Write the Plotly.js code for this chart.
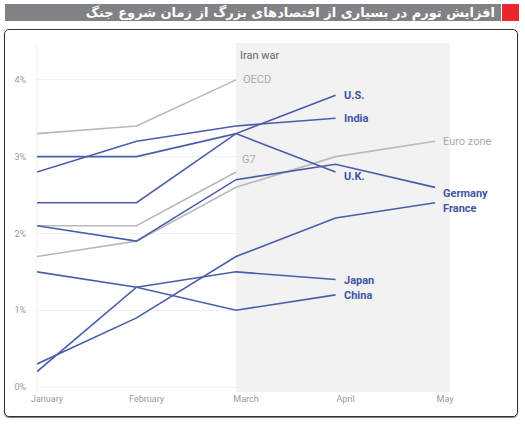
<!DOCTYPE html>
<html>
<head>
<meta charset="utf-8">
<script src="https://cdn.plot.ly/plotly-3.0.1.min.js"></script>
<style>
  body { margin: 0; background: #fff; }
  #wrap { position: relative; width: 525px; height: 425px; overflow: hidden; }
  #hdr { position: absolute; left: 5px; top: 4px; width: 496px; height: 17px; background: #808285;
         color: #fff; font: bold 13px "DejaVu Sans", sans-serif; direction: rtl; text-align: right;
         line-height: 17px; }
  #hdr span { padding-right: 6px; }
  #red { position: absolute; left: 502px; top: 4px; width: 17px; height: 17px; background: #e8262b; }
  #frame { position: absolute; left: 4px; top: 29px; width: 512px; height: 386px;
           border: 1.5px solid #333; border-radius: 5px; box-shadow: 0 1px 1px #777; }
  #chart { position: absolute; left: 0; top: 0; width: 525px; height: 425px; }
</style>
</head>
<body>
<div id="wrap">
  <div id="hdr"><span>افزایش تورم در بسیاری از اقتصادهای بزرگ از زمان شروع جنگ</span></div>
  <div id="red"></div>
  <div id="frame"></div>
  <div id="chart"></div>
</div>
<script>
'use strict';

// inflation, %
const months = ['January', 'February', 'March', 'April', 'May'];
const yTicks = [0, 1, 2, 3, 4];
const us = [2.4, 2.4, 3.3, 3.8];
const india = [2.8, 3.2, 3.4, 3.5];
const uk = [3.0, 3.0, 3.3, 2.8];
const germany = [2.1, 1.9, 2.7, 2.9, 2.6];
const france = [0.3, 0.9, 1.7, 2.2, 2.4];
const japan = [0.2, 1.3, 1.5, 1.4];
const china = [1.5, 1.3, 1.0, 1.2];
const oecd = [3.3, 3.4, 4.0];
const g7 = [2.1, 2.1, 2.8];
const euroZone = [1.7, 1.9, 2.6, 3.0, 3.2];

const BLUE = '#4a5dab', BLUE_TXT = '#3f55a6';
const GRAY = '#b9b9b9', GRAY_TXT = '#a9a9a9';

// name, values, colour, label offset (px)
const series = [
    ['OECD', oecd, 'gray', 5, 0],
    ['G7', g7, 'gray', 4, 13],
    ['Euro zone', euroZone, 'gray', 6, 0],
    ['U.S.', us, 'blue', 6, 0],
    ['India', india, 'blue', 6, 0],
    ['U.K.', uk, 'blue', 6, -4],
    ['Germany', germany, 'blue', 6, -6],
    ['France', france, 'blue', 6, -6],
    ['Japan', japan, 'blue', 6, -1],
    ['China', china, 'blue', 6, -1],
];

const traces = series.map(([name, vals, c]) => ({
    x: months.slice(0, vals.length), y: vals, name,
    type: 'scatter', mode: 'lines',
    line: { color: c === 'blue' ? BLUE : GRAY, width: 1.6 },
    hoverinfo: 'skip',
}));

const annotations = series.map(([name, vals, c, dx, dy]) => ({
    x: months[vals.length - 1], y: vals[vals.length - 1],
    text: name, showarrow: false, xanchor: 'left', yanchor: 'middle',
    xshift: dx, yshift: dy,
    font: { family: 'Roboto, sans-serif', size: 11, color: c === 'blue' ? BLUE_TXT : GRAY_TXT,
            weight: c === 'blue' ? 700 : 400 },
}));
annotations.push({
    x: 'March', y: 1, yref: 'paper', text: 'Iran war', showarrow: false,
    xanchor: 'left', yanchor: 'top', xshift: 2, yshift: -4,
    font: { family: 'Roboto, sans-serif', size: 11, color: '#666' },
});

const layout = {
    width: 525, height: 425,
    margin: { l: 37, r: 75, t: 43, b: 33 },
    paper_bgcolor: 'rgba(0,0,0,0)', plot_bgcolor: 'rgba(0,0,0,0)',
    showlegend: false,
    font: { family: 'Roboto, sans-serif' },
    xaxis: {
        type: 'category', categoryarray: months, range: [0, 4.15],
        showgrid: false, zeroline: false, showline: false, ticks: '',
        tickfont: { size: 9, color: '#9a9a9a' }, ticklabelshift: 10,
        fixedrange: true,
    },
    yaxis: {
        range: [-0.065, 4.48], tickmode: 'array',
        tickvals: yTicks, ticktext: yTicks.map(v => v + '%'),
        showgrid: true, gridcolor: '#f1f1f1', gridwidth: 1, zeroline: false,
        showline: true, linecolor: '#f2f2f2',
        tickfont: { size: 9, color: '#9a9a9a' }, ticklabelstandoff: 8,
        fixedrange: true,
    },
    shapes: [{
        type: 'rect', xref: 'x', yref: 'paper', x0: 2, x1: 4.15, y0: 0, y1: 1,
        fillcolor: '#f2f2f2', line: { width: 0 }, layer: 'below',
    }],
    annotations,
};

Plotly.newPlot('chart', traces, layout, { displayModeBar: false, staticPlot: true });
</script>
</body>
</html>
